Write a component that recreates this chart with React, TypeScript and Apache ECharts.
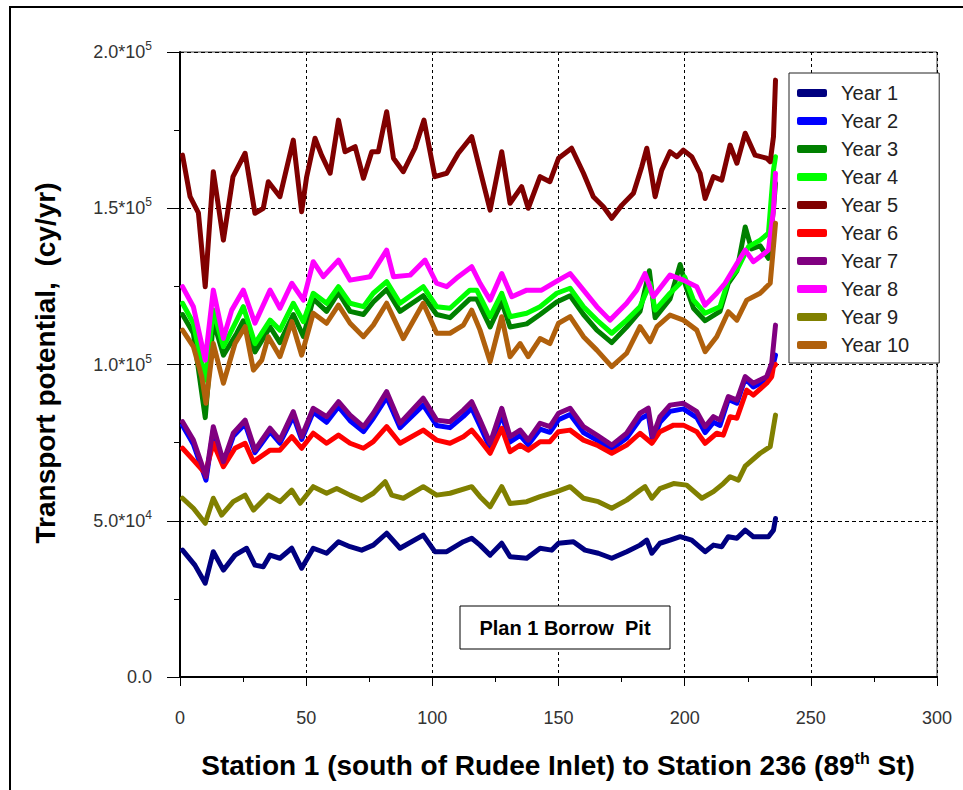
import React, { useEffect, useRef } from 'react';
import * as echarts from 'echarts';

// Values in thousands of cy/yr, [station, value]
const seriesNames = ['Year 1', 'Year 2', 'Year 3', 'Year 4', 'Year 5', 'Year 6', 'Year 7', 'Year 8', 'Year 9', 'Year 10'];
const seriesColors = ['#000080', '#0000FF', '#008000', '#00FF00', '#800000', '#FF0000', '#800080', '#FF00FF', '#808000', '#B0600C'];

const year1: number[][] = [[1,40.6],[5.9,35.8],[10,30],[13.2,40.1],[17.2,34.2],[21.8,39],[26.4,41.2],[29.7,35.8],[33,35.3],[35.7,39],[39.6,38],[44.3,41.2],[48.2,34.8],[52.8,41.2],[58.1,39.6],[62.8,43.3],[67.4,41.7],[72,40.6],[76.6,42.2],[81.9,46],[87.2,41.2],[96.4,45.4],[101,40.1],[105.7,40.1],[112.3,43.3],[115.6,44.4],[118.9,42.2],[122.9,39],[127.5,42.8],[130.8,38.5],[137.4,38],[142.7,41.2],[147.3,40.6],[150,42.8],[155.9,43.3],[160.5,40.6],[165.8,39.6],[171.1,38],[177,40.1],[182.3,42.2],[185,43.8],[187,39.6],[190.2,42.8],[194.2,43.8],[198.2,44.9],[202.8,43.8],[208.1,40.1],[211.4,42.2],[214.7,41.7],[217.3,44.9],[220.7,44.4],[224,47],[227.2,44.9],[233.2,44.9],[235.2,47],[236,50.7]];
const year2: number[][] = [[1,80.5],[5.3,74.5],[10.3,63],[13.2,79],[17.2,68],[21.1,77],[25.8,81],[29.7,71.8],[35.7,78.5],[39.6,74.8],[44.9,83.5],[48.2,76],[52.8,84.8],[58.1,81.5],[62.8,86.5],[67.4,82],[72.7,78.5],[76.6,82.8],[81.9,89.5],[87.2,79.8],[96.4,87],[101.7,80.5],[107,79.8],[112.3,83.4],[115.6,86],[118.9,80.3],[122.9,73.2],[127.5,84],[130.8,75.2],[134.8,77.3],[138,74.3],[142.7,79.3],[146.6,78.3],[150,82.3],[154.6,84],[159.9,78.2],[165.2,75.8],[171.1,73],[177,76.5],[182.3,82.5],[185.6,84],[187.3,75.5],[190.2,81.5],[194.2,85],[199.5,85.8],[204.8,83],[208.1,78.2],[211.4,81.5],[214,80.5],[217.3,88.8],[220.7,87.6],[224,95.5],[227.2,92.8],[232.5,95],[234.5,98],[236,103]];
const year3: number[][] = [[1,116],[5.3,110],[10,83],[13.2,114],[17.2,103],[22.5,110],[25.1,114],[29.7,104],[35.7,112],[39.6,107],[44.9,116],[48.9,109],[52.8,121],[58.1,117],[62.8,123],[67.4,117],[72.7,116],[76.6,120],[81.9,124],[87.2,117],[96.4,122],[101.7,116],[107,115],[114.9,121],[117.6,121],[122.9,112],[127.5,120],[130.8,112],[137.4,113],[142.7,116],[149.3,120],[154.6,122],[159.9,116],[165.2,111],[171.1,107],[177,112],[182.3,117],[186,130],[188.3,115],[194.2,121],[198.2,132],[200.5,125],[203.5,118],[208.1,114],[214,117],[217.3,126],[220.7,130],[224,144],[226.5,137],[229.9,138],[233.2,134],[235.2,150],[236,158]];
const year4: number[][] = [[1,119.6],[5.3,113.2],[10,95],[13.2,117.4],[17.2,105.7],[22.5,114.2],[25.1,118.5],[29.7,106.7],[35.7,114.2],[39.6,111],[44.9,119.6],[48.9,113.7],[52.8,122.8],[58.1,119.6],[62.8,124.9],[67.4,119.6],[72.7,118.5],[76.6,122.8],[81.9,126.5],[87.2,119.6],[96.4,124.9],[101.7,118.5],[107,118],[114.9,123.8],[117.6,123.8],[122.9,115.3],[127.5,122.8],[130.8,115.3],[137.4,116.4],[142.7,118.5],[149.3,122.8],[154.6,124.4],[159.9,118.5],[165.2,114.2],[171.1,110],[177,114.2],[182.3,118.5],[186.3,126],[188.3,117.4],[194.2,122.8],[198.2,126],[200,128],[203.5,120.6],[208.1,116.4],[214,118.5],[217.3,127],[220.7,130.2],[225.3,137.7],[229.9,139.8],[233.2,142],[235.2,162.2],[236,166.5]];
const year5: number[][] = [[1,167],[4,153.7],[7.3,148.5],[10,124.9],[13.2,161.7],[17.2,139.8],[21,160.1],[25.8,167.6],[29.7,148.4],[33,150],[35,158.5],[39.6,153.7],[44.9,171.8],[48.2,148.9],[50.2,160.1],[53.5,172.4],[56.1,167],[59.5,161.2],[62.8,178.2],[65.4,168.1],[69.4,169.7],[72.7,159.6],[76,168.1],[78.6,168.1],[81.9,180.9],[84.6,166],[88.5,161.7],[93.1,169.2],[96.7,178.2],[101,160.1],[105.7,161.2],[110.3,167.6],[115.6,172.9],[118.9,162.2],[122.9,149.4],[127.5,168.1],[130.8,151.6],[135.4,156.9],[138,150],[142.7,160.1],[146.6,158.5],[150,166],[155.2,169.2],[159.9,161.2],[163.8,153.7],[167.8,150.5],[171.1,146.8],[175.1,151],[179.7,154.8],[183,163.3],[185,169.2],[187,160.1],[188.3,153.7],[190.9,162.2],[194.2,168.1],[196.9,166.5],[199.5,168.6],[202.8,166.5],[206.1,161.2],[208.1,153.1],[211.4,160.1],[214.7,159],[218,170.2],[220.7,164.4],[224,174],[227.9,167],[232.5,166],[233.9,164.9],[235.2,172.9],[236,191]];
const year6: number[][] = [[1,73.2],[5.3,69.4],[10,65.2],[13.2,74.8],[17.2,67.3],[21.8,73.2],[25.8,74.8],[29.1,68.9],[35.7,72.6],[39.6,72.6],[44.3,76.9],[48.2,73.2],[52.8,78],[58.1,74.8],[62.8,77.4],[67.4,74.8],[72.7,73.2],[76.6,75.3],[81.9,80.1],[87.2,74.8],[96.4,79],[101.7,75.8],[107,74.8],[112.3,76.9],[115.6,79],[118.9,75.8],[122.9,71.6],[127.5,79.6],[130.8,72.1],[134.8,74.2],[138,72.6],[142.7,75.3],[146.6,75.3],[150,78.5],[154.6,79],[159.9,75.8],[165.2,74.2],[171.1,71.6],[177,74.2],[182.3,78],[187,74.8],[190.2,78.5],[195.6,80.6],[199.5,80.6],[204.8,78.5],[208.1,74.8],[212.7,78],[215.3,77.4],[218,83.3],[220.7,82.8],[224.6,91.8],[227.2,90.2],[232.5,94],[234.5,96.1],[235.2,99.3],[236,100]];
const year7: number[][] = [[1,81.7],[5.3,75.8],[10.3,64.1],[13.2,80.1],[17.2,68.9],[21.1,78],[25.8,82.2],[29.7,72.6],[35.7,79.6],[39.6,75.8],[44.9,84.9],[48.2,76.9],[52.8,86],[58.1,83.3],[62.8,88.1],[67.4,83.8],[72.7,80.1],[76.6,84.4],[81.9,91.3],[87.2,81.2],[96.4,89.2],[101.7,82.2],[107,81.7],[112.3,85.4],[115.6,88.1],[118.9,82.2],[122.9,74.8],[127.5,86],[130.8,76.9],[134.8,79],[138,75.8],[142.7,81.2],[146.6,80.1],[150,84.4],[154.6,86],[159.9,80.1],[165.2,77.4],[171.1,74.2],[177,78],[182.3,84.4],[185.6,86],[187.3,76.9],[190.2,83.3],[194.2,87],[199.5,87.6],[204.8,84.9],[208.1,80.1],[211.4,83.3],[214,82.2],[217.3,89.7],[220.7,88.6],[224,96.1],[227.2,94],[232.5,96.1],[234.5,100.4],[236,112.6]];
const year8: number[][] = [[1,124.9],[5.3,118.5],[10,101.4],[13.2,123.8],[17.2,108.4],[20.5,117.4],[25.1,123.8],[29.7,113.2],[35.7,123.8],[39.6,118],[44.3,126],[48.9,120.6],[52.8,132.9],[56.8,128.1],[62.8,133.4],[67.4,127],[75.3,128.1],[81.9,136.6],[84.6,128.1],[91.2,128.6],[97.1,133.4],[101.7,126],[105.7,124.9],[110.3,128.1],[115.6,131.3],[118.9,126],[122.9,120.6],[127.5,129.1],[131.5,121.7],[137.4,123.8],[143.3,123.8],[150,127],[154.6,129.1],[159.9,123.8],[165.2,118.5],[170.4,114.2],[177,119.6],[181,123.8],[184.3,129.1],[187.6,121.7],[194.2,128.6],[199.5,127],[204.8,124.9],[208.1,119],[212.7,122.8],[216,126],[220.7,132.3],[224,136.6],[227.2,132.9],[229.9,134.5],[233.2,136.6],[235.2,149.4],[236,161.2]];
const year9: number[][] = [[1,57.2],[5.3,54],[10,49.2],[13.2,57.2],[16.5,51.8],[21.1,56.1],[25.8,58.2],[29.1,53.4],[35,58.2],[39.6,56.1],[44.3,59.8],[47.6,55.6],[52.8,60.9],[58.1,58.8],[62.1,60.3],[67.4,58.2],[72,56.6],[76.6,58.8],[81.3,62.5],[83.9,58.2],[88.5,57.2],[96.4,60.9],[101.7,58.2],[107,58.8],[115.6,60.9],[118.9,57.7],[122.9,54.5],[127.5,60.9],[130.8,55.5],[137.4,56.1],[142.7,57.7],[149.3,59.3],[154.6,60.9],[159.9,57.2],[165.8,56.1],[171.1,54],[177,56.6],[182.3,59.8],[184.3,60.9],[187,57.2],[190.2,60.3],[195.6,61.9],[200.8,61.4],[206.8,57.2],[211.4,59.3],[215.3,61.9],[218,64.1],[221.3,63],[224,67.5],[229.9,71.6],[233.9,73.7],[236,83.8]];
const year10: number[][] = [[1,111],[5.3,105.7],[8.6,96.1],[10.3,87.6],[13.2,106.7],[17.2,94],[21.8,106.7],[25.8,112.1],[29.1,98.2],[32.4,101.4],[35,108.9],[39.6,102.5],[44.3,113.7],[48.2,103],[52.8,116.4],[58.1,113.2],[62.8,119],[67.4,113.2],[72.7,108.9],[76.6,112.6],[81.9,119.6],[88.5,108.3],[96.4,119.6],[101.7,110],[107,110],[112.3,112.6],[115.6,117.4],[118.9,111],[122.9,100.9],[127.5,115.3],[130.8,102.5],[134.8,106.7],[138,102.5],[142.7,108.3],[146.6,106.7],[150,113.2],[154.6,115.3],[159.9,108.9],[165.2,104.6],[171.1,99.3],[177,103.6],[182.3,112.1],[186.3,107.3],[189,112.1],[194.2,115.8],[199.5,114.2],[204.8,111],[208.1,104.1],[212.7,108.9],[217.3,116.9],[220.7,114.2],[224.6,120.6],[229.9,122.8],[233.9,126],[236,145.2]];

const allData = [year1, year2, year3, year4, year5, year6, year7, year8, year9, year10];

const xTicks = { min: 0, max: 300, interval: 50 };
const yTicks = { min: 0, max: 200000, interval: 50000 };

const FONT = 'Arial, "Liberation Sans", sans-serif';

function yLabel(v: number): string {
  if (v === 0) return '{a|0.0}';
  const e = Math.floor(Math.log10(v) + 1e-9);
  const m = v / Math.pow(10, e);
  return `{a|${m.toFixed(1)}*10}{s|${e}}`;
}

export default function App() {
  const ref = useRef<HTMLDivElement>(null);
  useEffect(() => {
    document.body.style.margin = '0';
    const chart = echarts.init(ref.current!, null, { renderer: 'svg' });
    const option: any = {
      animation: false,
      backgroundColor: '#fff',
      grid: { left: 180, top: 52, right: 26, bottom: 113, show: true, borderColor: '#444', borderWidth: 1 },
      xAxis: {
        type: 'value', min: xTicks.min, max: xTicks.max, interval: xTicks.interval,
        axisLine: { lineStyle: { color: '#000', width: 2 } },
        axisTick: { inside: false, length: 9, lineStyle: { color: '#000', width: 1 } },
        minorTick: { show: true, splitNumber: 2, length: 5, lineStyle: { color: '#000' } },
        splitLine: { show: true, lineStyle: { color: '#000', width: 1, type: [3, 3] } },
        axisLabel: { margin: 32, fontSize: 18, color: '#333', fontFamily: FONT },
      },
      yAxis: {
        type: 'value', min: yTicks.min, max: yTicks.max, interval: yTicks.interval,
        axisLine: { show: true, lineStyle: { color: '#000', width: 2 } },
        axisTick: { show: true, length: 13, lineStyle: { color: '#000', width: 1 } },
        minorTick: { show: true, splitNumber: 2, length: 6, lineStyle: { color: '#000' } },
        splitLine: { show: true, lineStyle: { color: '#000', width: 1, type: [4, 3] } },
        axisLabel: {
          margin: 28, formatter: yLabel,
          rich: {
            a: { fontSize: 18, color: '#333', fontFamily: FONT },
            s: { fontSize: 12, color: '#333', fontFamily: FONT, padding: [0, 0, 12, 0] },
          },
        },
      },
      legend: {
        orient: 'vertical', left: 789, top: 73, padding: [10, 30, 8, 8], itemGap: 8,
        itemWidth: 30, itemHeight: 8, icon: 'roundRect',
        backgroundColor: '#fff', borderColor: '#222', borderWidth: 1,
        textStyle: { fontSize: 20, lineHeight: 20, color: '#222', fontFamily: FONT, padding: [0, 0, 0, 9] },
        data: seriesNames,
      },
      series: allData.map((d, i) => ({
        name: seriesNames[i], type: 'line', showSymbol: false, symbol: 'none',
        data: d.map(p => [p[0], p[1] * 1000]),
        lineStyle: { color: seriesColors[i], width: 5, cap: 'round', join: 'round' },
        itemStyle: { color: seriesColors[i] },
        z: 2 + i,
      })),
      graphic: [
        { type: 'rect', z: 100, silent: true, shape: { x: 10, y: 7, width: 1100, height: 1100 }, style: { fill: 'none', stroke: '#000', lineWidth: 2 } },
        {
          type: 'text', z: 100, x: 45, y: 363, rotation: Math.PI / 2,
          style: { text: 'Transport potential,  (cy/yr)', fontSize: 28, fontWeight: 'bold', fontFamily: FONT, fill: '#000', align: 'center', verticalAlign: 'middle' },
        },
        {
          type: 'text', z: 100, x: 558, y: 765,
          style: {
            text: '{n|Station 1 (south of Rudee Inlet) to Station 236 (89}{s|th}{n| St)}',
            align: 'center', verticalAlign: 'middle',
            rich: {
              n: { fontSize: 28, fontWeight: 'bold', fontFamily: FONT, fill: '#000' },
              s: { fontSize: 16, fontWeight: 'bold', fontFamily: FONT, fill: '#000', padding: [0, 0, 14, 0] },
            },
          },
        },
        { type: 'rect', z: 100, shape: { x: 460, y: 606, width: 210, height: 43 }, style: { fill: '#fff', stroke: '#000', lineWidth: 1 } },
        {
          type: 'text', z: 101, x: 565, y: 628,
          style: { text: 'Plan 1 Borrow  Pit', fontSize: 20, fontWeight: 'bold', fontFamily: FONT, fill: '#000', align: 'center', verticalAlign: 'middle' },
        },
      ],
    };
    chart.setOption(option);
    return () => chart.dispose();
  }, []);
  return <div ref={ref} style={{ width: 963, height: 790 }} />;
}
